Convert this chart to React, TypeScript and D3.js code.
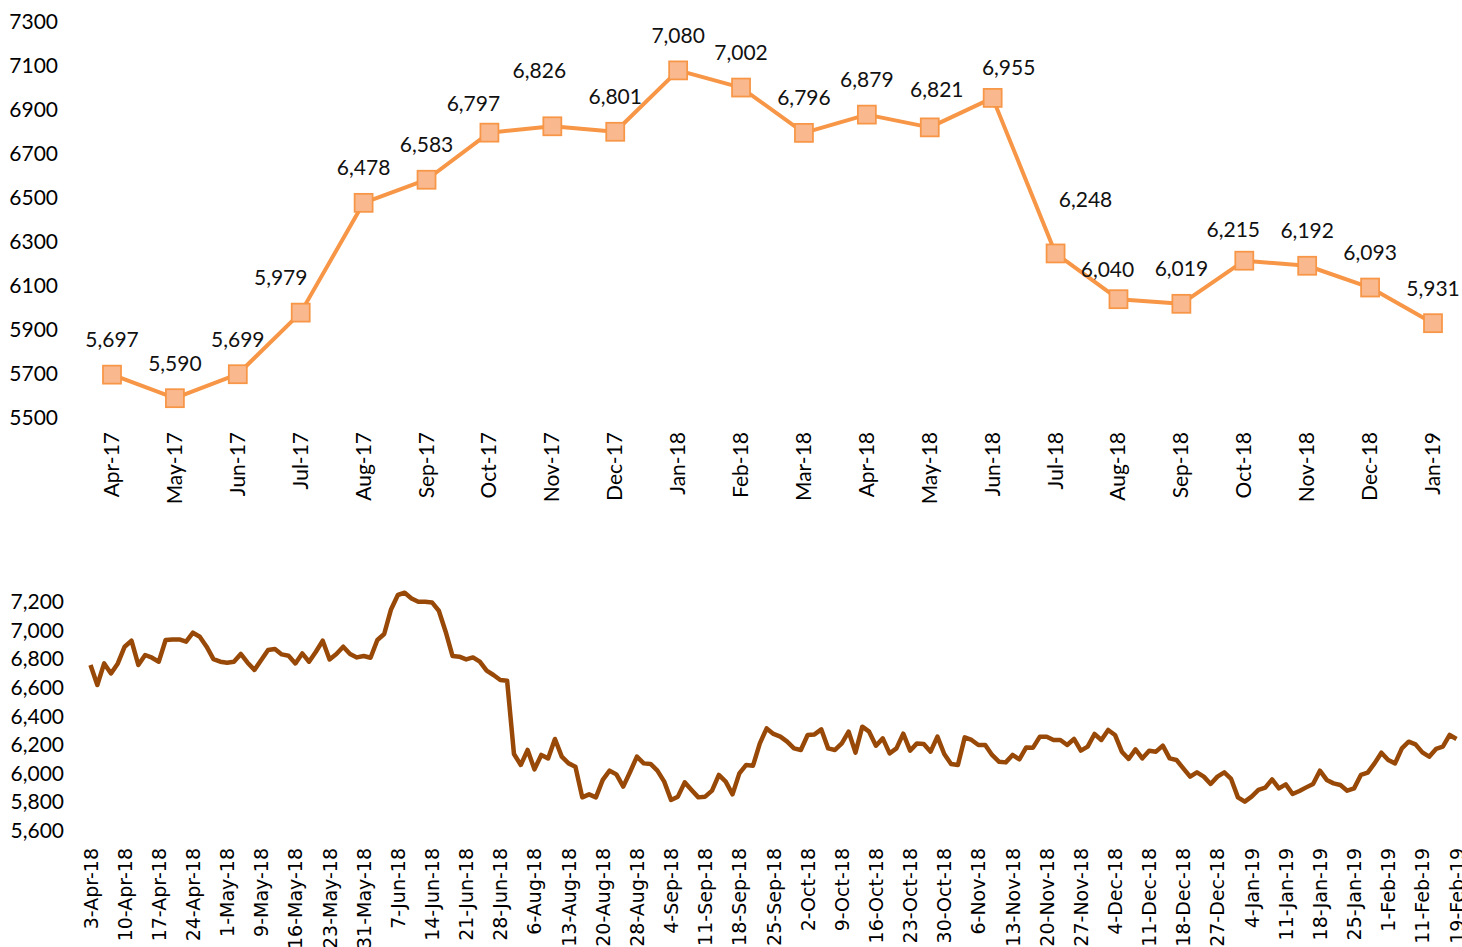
import React from 'react';
import * as d3 from 'd3';

// Monthly averages (top chart)
const months = [
  'Apr-17', 'May-17', 'Jun-17', 'Jul-17', 'Aug-17', 'Sep-17', 'Oct-17', 'Nov-17', 'Dec-17', 'Jan-18', 'Feb-18',
  'Mar-18', 'Apr-18', 'May-18', 'Jun-18', 'Jul-18', 'Aug-18', 'Sep-18', 'Oct-18', 'Nov-18', 'Dec-18', 'Jan-19',
];
const monthlyValues = [
  5697, 5590, 5699, 5979, 6478, 6583, 6797, 6826, 6801, 7080, 7002,
  6796, 6879, 6821, 6955, 6248, 6040, 6019, 6215, 6192, 6093, 5931,
];
const monthlyTicks = [5500, 5700, 5900, 6100, 6300, 6500, 6700, 6900, 7100, 7300];

// manual label nudges [dx, dy] as placed in the original
const labelNudge: [number, number][] = [
  [0, 0], [0, 0], [0, 0], [-20, 0], [0, 0], [0, 0], [-16, 6], [-13, -21], [0, 0], [0, 0], [0, 0],
  [0, 0], [0, 0], [7, -3], [16, 5], [30, -19], [-11, 5], [0, 0], [-11, 4], [0, 0], [0, 0], [0, 0],
];

// Daily series (bottom chart), one tick label every 5 points
const dailyValues = [
  6759, 6619, 6770, 6700, 6770, 6887, 6929, 6759, 6829, 6810,
  6782, 6934, 6938, 6938, 6922, 6985, 6957, 6887, 6800, 6782,
  6775, 6782, 6836, 6775, 6724, 6794, 6864, 6871, 6833, 6824,
  6770, 6840, 6782, 6852, 6929, 6798, 6836, 6887, 6836, 6812,
  6822, 6810, 6934, 6976, 7148, 7249, 7265, 7225, 7202, 7202,
  7197, 7139, 6992, 6822, 6817, 6798, 6812, 6782, 6719, 6689,
  6654, 6649, 6136, 6059, 6164, 6028, 6129, 6105, 6241, 6117,
  6070, 6047, 5832, 5853, 5832, 5954, 6019, 5993, 5907, 6010,
  6117, 6070, 6066, 6019, 5942, 5814, 5837, 5937, 5884, 5832,
  5837, 5879, 5989, 5942, 5853, 6000, 6059, 6054, 6210, 6315,
  6276, 6257, 6222, 6175, 6164, 6269, 6273, 6308, 6175, 6164,
  6210, 6292, 6145, 6327, 6292, 6194, 6245, 6140, 6175, 6278,
  6159, 6210, 6206, 6152, 6257, 6136, 6066, 6059, 6252, 6234,
  6199, 6199, 6129, 6082, 6077, 6129, 6098, 6182, 6180, 6257,
  6257, 6234, 6234, 6199, 6241, 6159, 6187, 6276, 6234, 6304,
  6269, 6152, 6101, 6168, 6105, 6159, 6152, 6194, 6105, 6094,
  6035, 5977, 6007, 5977, 5926, 5977, 6007, 5961, 5832, 5802,
  5837, 5884, 5900, 5958, 5895, 5923, 5856, 5877, 5902, 5926,
  6019, 5954, 5930, 5919, 5879, 5895, 5989, 6005, 6070, 6145,
  6094, 6070, 6175, 6222, 6203, 6147, 6117, 6171, 6187, 6269,
  6241,
];
const dailyLabels = [
  '3-Apr-18', '10-Apr-18', '17-Apr-18', '24-Apr-18', '1-May-18', '9-May-18', '16-May-18', '23-May-18',
  '31-May-18', '7-Jun-18', '14-Jun-18', '21-Jun-18', '28-Jun-18', '6-Aug-18', '13-Aug-18', '20-Aug-18',
  '28-Aug-18', '4-Sep-18', '11-Sep-18', '18-Sep-18', '25-Sep-18', '2-Oct-18', '9-Oct-18', '16-Oct-18',
  '23-Oct-18', '30-Oct-18', '6-Nov-18', '13-Nov-18', '20-Nov-18', '27-Nov-18', '4-Dec-18', '11-Dec-18',
  '18-Dec-18', '27-Dec-18', '4-Jan-19', '11-Jan-19', '18-Jan-19', '25-Jan-19', '1-Feb-19', '11-Feb-19',
  '19-Feb-19',
];
const dailyTicks = [5600, 5800, 6000, 6200, 6400, 6600, 6800, 7000, 7200];

const W = 1462;
const H = 947;
const calibri = 'Lato, "Open Sans", sans-serif';
const verdana = '"DejaVu Sans", sans-serif';

const App: React.FC = () => {
  // top chart scales
  const x1 = d3.scalePoint<string>().domain(months).range([112, 1433]);
  const y1 = d3.scaleLinear().domain([5500, 7300]).range([418, 22]);
  const line1 = d3.line<number>()
    .x((_, i) => x1(months[i]) as number)
    .y(d => y1(d));

  // bottom chart scales
  const x2 = d3.scaleLinear().domain([0, dailyValues.length - 1]).range([90.5, 1456.5]);
  const y2 = d3.scaleLinear().domain([5600, 7200]).range([830.5, 602]);
  const line2 = d3.line<number>()
    .x((_, i) => x2(i))
    .y(d => y2(d));
  const fmt = d3.format(',');

  const m = 18;

  return (
    <svg width={W} height={H} style={{ position: 'absolute', left: 0, top: 0, background: '#fff' }}>
      {/* top chart */}
      <g fontFamily={calibri} fontSize={21} fill="#000">
        {monthlyTicks.map(t => (
          <text key={t} x={58} y={y1(t)} dy="0.35em" textAnchor="end">{t}</text>
        ))}
        {months.map(mn => (
          <text key={mn} transform={`translate(${(x1(mn) as number) + 7},432) rotate(-90)`} textAnchor="end">{mn}</text>
        ))}
      </g>
      <path d={line1(monthlyValues) || ''} fill="none" stroke="#F79646" strokeWidth={4} strokeLinejoin="round" />
      {monthlyValues.map((v, i) => (
        <rect key={i} x={(x1(months[i]) as number) - m / 2} y={y1(v) - m / 2} width={m} height={m}
          fill="#F9B88D" stroke="#F79646" strokeWidth={1.75} />
      ))}
      <g fontFamily={calibri} fontSize={21} fill="#111">
        {monthlyValues.map((v, i) => (
          <text key={i} x={(x1(months[i]) as number) + labelNudge[i][0]} y={y1(v) - 35 + labelNudge[i][1]}
            dy="0.35em" textAnchor="middle">{fmt(v)}</text>
        ))}
      </g>

      {/* bottom chart */}
      <g fontFamily={calibri} fontSize={21} fill="#000">
        {dailyTicks.map(t => (
          <text key={t} x={64} y={y2(t)} dy="0.35em" textAnchor="end">{fmt(t)}</text>
        ))}
      </g>
      <g fontFamily={verdana} fontSize={19} fill="#000">
        {dailyLabels.map((lb, k) => (
          <text key={lb} transform={`translate(${x2(k * 5) + 7},848) rotate(-90)`} textAnchor="end">{lb}</text>
        ))}
      </g>
      <path d={line2(dailyValues) || ''} fill="none" stroke="#984807" strokeWidth={4.5} strokeLinejoin="round" />
    </svg>
  );
};

export default App;
